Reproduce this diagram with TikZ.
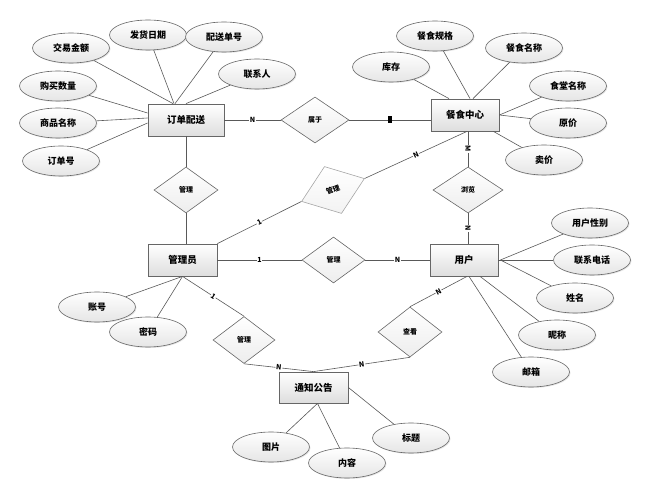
\documentclass[tikz,border=0pt]{standalone}
\usepackage{fontspec}
\setmainfont{Noto Sans CJK SC}
\usetikzlibrary{shapes.geometric,shadows}
\begin{document}
\begin{tikzpicture}[x=1pt,y=-1pt,
  line/.style={draw=black!65, line width=0.6pt},
  ent/.style={rectangle, draw=black!60, line width=0.8pt, top color=white, bottom color=black!13,
    minimum width=69pt, minimum height=31pt, inner sep=0pt, font=\bfseries\fontsize{9.5}{11}\selectfont,
    drop shadow={opacity=0.25,shadow xshift=1.2pt,shadow yshift=-1.2pt}},
  attr/.style={ellipse, draw=black!60, line width=0.6pt, top color=white, bottom color=black!10,
    minimum width=77pt, minimum height=30pt, inner sep=0pt, font=\bfseries\fontsize{9}{10}\selectfont,
    drop shadow={opacity=0.2,shadow xshift=1pt,shadow yshift=-1pt}},
  rel/.style={diamond, draw=black!60, line width=0.6pt, top color=white, bottom color=black!7,
    minimum width=64pt, minimum height=46pt, inner sep=0pt, font=\bfseries\fontsize{7}{8}\selectfont},
  card/.style={font=\bfseries\fontsize{7}{8}\selectfont, fill=white, inner sep=0.6pt}]
\useasboundingbox (0,0) rectangle (667,486);

% entities
\node[ent, minimum width=76pt, minimum height=32pt] (dd) at (186,120) {订单配送};
\node[ent, minimum width=68pt, minimum height=32pt] (cs) at (465,115) {餐食中心};
\node[ent, minimum height=32pt] (gl) at (182.5,260) {管理员};
\node[ent, minimum width=68pt, minimum height=32pt] (yh) at (464,260) {用户};
\node[ent] (tz) at (313.5,387.5) {通知公告};

% relationships
\node[rel, minimum width=68pt] (sy) at (315,120) {属于};
\node[rel] (gd1) at (186,190) {管理};
\node[rel, minimum width=70pt] (ll) at (468,190) {浏览};
\node[rel, minimum width=63pt] (gm) at (333.5,260) {管理};
\node[rel, minimum width=67pt, minimum height=50pt, rotate=20, draw=black!35, top color=white, bottom color=black!5] (gd2) at (333,190) {管理};
\node[rel, minimum width=62pt, minimum height=47pt] (gd3) at (244,340) {管理};
\node[rel, minimum width=64pt, minimum height=50pt] (ck) at (410,332) {查看};

% attributes of 订单配送
\node[attr] (jy) at (71,48) {交易金额};
\node[attr] (fh) at (148,35) {发货日期};
\node[attr] (ps) at (224,37) {配送单号};
\node[attr] (lx) at (257,74) {联系人};
\node[attr] (gm1) at (58,86) {购买数量};
\node[attr] (sp) at (58,123) {商品名称};
\node[attr] (dh) at (61,161) {订单号};

% attributes of 餐食中心
\node[attr] (gg) at (435,36) {餐食规格};
\node[attr] (mc) at (524,48) {餐食名称};
\node[attr] (kc) at (391,67) {库存};
\node[attr] (st) at (568,86) {食堂名称};
\node[attr] (yj) at (568,123) {原价};
\node[attr] (mj) at (544,160) {卖价};

% attributes of 用户
\node[attr] (xb) at (590,223) {用户性别};
\node[attr] (dhh) at (592,260) {联系电话};
\node[attr] (xm) at (575,298) {姓名};
\node[attr] (nc) at (557,335) {昵称};
\node[attr] (yx) at (531,372) {邮箱};

% attributes of 管理员
\node[attr] (zh) at (97,307) {账号};
\node[attr] (mm) at (148,332) {密码};

% attributes of 通知公告
\node[attr] (tp) at (271,447) {图片};
\node[attr] (nr) at (347,463) {内容};
\node[attr] (bt) at (411,438) {标题};

% attribute connectors
\draw[line] (jy) -- ([xshift=-13pt]dd.north);
\draw[line] (fh) -- ([xshift=-12pt]dd.north);
\draw[line] (ps) -- ([xshift=-11pt]dd.north);
\draw[line] (lx) -- (dd.north);
\draw[line] (gm1) -- ([yshift=7pt]dd.west);
\draw[line] (sp) -- ([yshift=2pt]dd.west);
\draw[line] (dh) -- ([yshift=-3pt]dd.west);

\draw[line] (kc) -- ([xshift=-16pt]cs.north);
\draw[line] (gg) -- ([xshift=5pt]cs.north);
\draw[line] (mc) -- ([xshift=8pt]cs.north);
\draw[line] (st) -- (cs.east);
\draw[line] (yj) -- (cs.east);
\draw[line] (mj) -- ([xshift=-6pt]cs.south east);

\draw[line] (xb) -- ([xshift=2pt]yh.east);
\draw[line] (dhh) -- (yh.east);
\draw[line] (xm) -- ([xshift=2pt]yh.east);
\draw[line] (nc) -- ([xshift=16pt]yh.south);
\draw[line] (yx) -- ([xshift=5pt]yh.south);

\draw[line] (zh) -- (gl.south);
\draw[line] (mm) -- (gl.south);

\draw[line] (tp) -- ([xshift=4pt]tz.south);
\draw[line] (nr) -- ([xshift=4pt]tz.south);
\draw[line] (bt) -- (tz.east);

% relationship connectors
\draw[line] (dd.east) -- node[card]{N} (sy.west);
\draw[line] (sy.east) -- node[fill=black, inner sep=0pt, minimum width=4pt, minimum height=7pt]{} (sy.east -| cs.west);
\draw[line] (dd.south) -- (gd1.north);
\draw[line] (gd1.south) -- (gd1.south |- gl.north);
\draw[line] (gl.north east) -- node[card, sloped]{1} (gd2.west);
\draw[line] (gd2.east) -- node[card, sloped]{N} ([xshift=2pt]cs.south);
\draw[line] (ll.north |- cs.south) -- node[card, sloped]{M} (ll.north);
\draw[line] (ll.south) -- node[card, sloped]{N} (ll.south |- yh.north);
\draw[line] (gl.east) -- node[card]{1} (gm.west);
\draw[line] (gm.east) -- node[card]{N} (yh.west);
\draw[line] (gl.south) -- node[card, sloped]{1} (gd3.north);
\draw[line] (gd3.south) -- node[card, sloped]{N} (tz.north);
\draw[line] ([xshift=3pt]yh.south) -- node[card, sloped]{N} (ck.north);
\draw[line] (ck.south) -- node[card, sloped]{N} (tz.north);
\end{tikzpicture}
\end{document}
